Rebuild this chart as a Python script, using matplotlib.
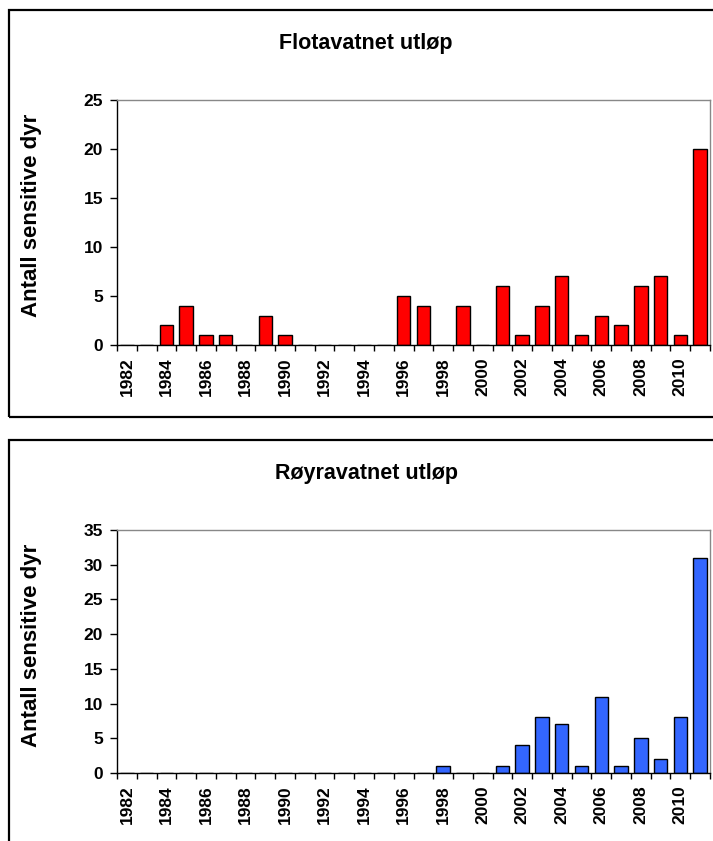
import matplotlib
matplotlib.use("Agg")
import matplotlib.pyplot as plt
from matplotlib.patches import Rectangle
import numpy as np

plt.rcParams["font.family"] = ["Liberation Sans", "DejaVu Sans"]
plt.rcParams["font.weight"] = "bold"

# Data: number of sensitive animals per year
years = list(range(1982, 2012))
flota_counts = [0, 0, 2, 4, 1, 1, 0, 3, 1, 0, 0, 0, 0, 0, 5, 4, 0, 4, 0, 6,
                1, 4, 7, 1, 3, 2, 6, 7, 1, 20]
royra_counts = [0, 0, 0, 0, 0, 0, 0, 0, 0, 0, 0, 0, 0, 0, 0, 0, 1, 0, 0, 1,
                4, 8, 7, 1, 11, 1, 5, 2, 8, 31]
titles = ["Flotavatnet utløp", "Røyravatnet utløp"]
ylabel = "Antall sensitive dyr"

W, H = 713, 841
fig = plt.figure(figsize=(W / 100, H / 100), dpi=100)


def fx(px):
    return px / W


def fy(py):
    return 1 - py / H


def draw_panel(frame_top, frame_bot, ax_top, ax_bot, title_base, ylab_y,
               counts, ymax, color, title):
    # outer chart frame (Excel-style chart area border)
    fig.patches.append(Rectangle((fx(9), fy(frame_bot)), 1.2, fy(frame_top) - fy(frame_bot),
                                 transform=fig.transFigure, fill=False,
                                 edgecolor="black", linewidth=1.6, clip_on=False))
    fig.text(fx(366), fy(title_base), title, ha="center", va="baseline",
             fontsize=15.5, fontweight="bold")

    ax = fig.add_axes([fx(117), fy(ax_bot), fx(710) - fx(117), fy(ax_top) - fy(ax_bot)])
    x = np.arange(len(years))
    ax.bar(x, counts, width=0.68, color=color, edgecolor="black", linewidth=1.0)
    ax.set_xlim(-0.5, len(years) - 0.5)
    ax.set_ylim(0, ymax)
    ax.set_yticks(np.arange(0, ymax + 1, 5))
    ax.tick_params(axis="y", direction="out", length=5, width=1, labelsize=12.5, pad=5)

    # tick marks between categories, labels on every other year
    ax.set_xticks(np.arange(-0.5, len(years), 1.0))
    ax.set_xticklabels([])
    ax.tick_params(axis="x", which="major", direction="out", length=4, width=1)
    ax.set_xticks(x[::2], minor=True)
    ax.set_xticklabels([str(y) for y in years[::2]], minor=True, rotation=90,
                       fontsize=12.5, fontweight="bold")
    ax.tick_params(axis="x", which="minor", length=0, pad=9)

    for lbl in ax.get_yticklabels():
        lbl.set_fontweight("bold")

    ax.spines["left"].set_color("black")
    ax.spines["bottom"].set_color("black")
    ax.spines["top"].set_color("#888888")
    ax.spines["right"].set_color("#888888")
    for s in ax.spines.values():
        s.set_linewidth(1.0)

    fig.text(fx(32), fy(ylab_y), ylabel, rotation=90,
             ha="center", va="center", fontsize=16, fontweight="bold")
    return ax


draw_panel(10, 417, 100, 345, 49, 215, flota_counts, 25, "#ff0000", titles[0])
draw_panel(440, 900, 530, 773, 479, 645, royra_counts, 35, "#3366ff", titles[1])

fig.savefig("out.png", dpi=100)
